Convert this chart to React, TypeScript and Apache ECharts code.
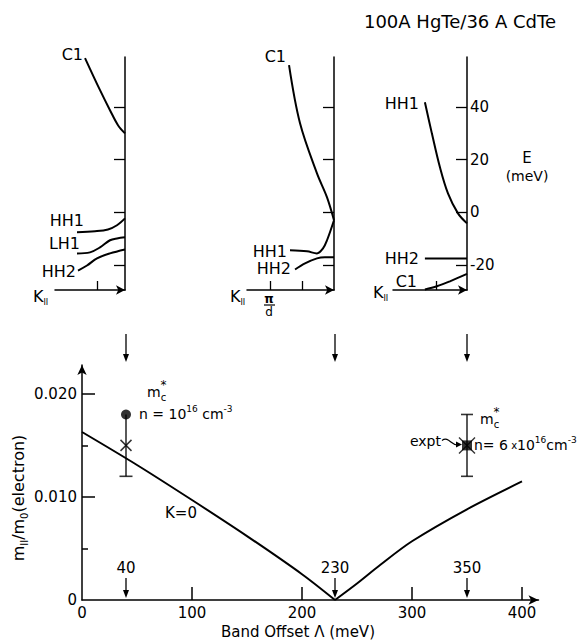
import React, { useEffect, useRef } from 'react';
import * as echarts from 'echarts';

const FONT = 'DejaVu Sans';

// ---------- Bottom panel: effective mass vs band offset ----------
const offsetLabels = [0, 100, 200, 300, 400];
const offsetTicks = [100, 200, 300, 400];
const massLabels = [0, 0.01, 0.02];
const massMajorTicks = [0.01, 0.02];
const massMinorTicks = [0.005, 0.015];
const massCurveBelow = [[0, 0.0163], [50, 0.0131], [100, 0.0097], [150, 0.0062], [200, 0.0025], [230, 0]];
const massCurveAbove = [[230, 0], [250, 0.0016], [271, 0.0034], [300, 0.0057], [350, 0.0088], [400, 0.0115]];
const lowDensityMeasured = [[40, 0.018]];
const lowDensityCalc = [[40, 0.015]];
const lowDensityError = [[40, 0.012], [40, 0.018]];
const lowDensityCaps = [[40, 0.012]];
const highDensityMeasured = [[350, 0.015]];
const highDensityError = [[350, 0.012], [350, 0.018]];
const highDensityCaps = [[350, 0.012], [350, 0.018]];
const markedOffsets = [40, 230, 350];

// ---------- Top panels: subband dispersions (k in π/d, E in meV) ----------
const energyTicks = [-20, 0, 20, 40];
const p40C1 = [[0.714, 58.6], [0.446, 46.4], [0.268, 38.8], [0.125, 33.1], [0, 30.0]];
const p40HH1 = [[0.857, -7.6], [0.536, -7.2], [0.304, -6.5], [0.143, -4.9], [0, -2.3]];
const p40LH1 = [[0.857, -15.6], [0.625, -15.2], [0.446, -13.3], [0.268, -10.6], [0.143, -9.9], [0, -9.5]];
const p40HH2 = [[0.839, -22.1], [0.679, -20.2], [0.5, -17.5], [0.268, -15.6], [0, -14.1]];
const p230C1 = [[0.703, 55.9], [0.531, 33.8], [0.266, 14.8], [0.109, 5.7], [0, -3.0]];
const p230HH1 = [[0.688, -14.4], [0.422, -14.8], [0.266, -15.6], [0.172, -13.7], [0.109, -10.6], [0, -3.0]];
const p230HH2 = [[0.609, -21.7], [0.453, -19.4], [0.266, -17.5], [0.141, -17.1], [0, -17.1]];
const p350HH1 = [[0.677, 41.8], [0.565, 30], [0.435, 17.1], [0.306, 7.2], [0.145, -0.4], [0, -4.2]];
const p350HH2 = [[0.677, -17.5], [0, -17.5]];
const p350C1 = [[0.677, -29.3], [0.484, -28.1], [0.274, -26.2], [0, -23.4]];

const BLACK = '#000';

const panels = [
  { left: 55, width: 70, kMax: 1.25, kTicks: [0.5], showLabels: false, curves: [p40C1, p40HH1, p40LH1, p40HH2] },
  { left: 247, width: 87, kMax: 1.36, kTicks: [0.5, 1], showLabels: false, curves: [p230C1, p230HH1, p230HH2] },
  { left: 393, width: 74, kMax: 1.19, kTicks: [0.5], showLabels: true, curves: [p350HH1, p350HH2, p350C1] },
];

const rich: any = {
  b: { fontFamily: FONT, fontSize: 14, lineHeight: 20, verticalAlign: 'middle', fill: BLACK },
  bs: { fontFamily: FONT, fontSize: 10, lineHeight: 20, verticalAlign: 'middle', fill: BLACK },
  sup: { fontFamily: FONT, fontSize: 9, lineHeight: 10, verticalAlign: 'top', fill: BLACK },
  sub: { fontFamily: FONT, fontSize: 10, lineHeight: 10, verticalAlign: 'bottom', fill: BLACK },
  k: { fontFamily: FONT, fontSize: 16, lineHeight: 20, verticalAlign: 'middle', fill: BLACK },
  ksub: { fontFamily: FONT, fontSize: 8, lineHeight: 8, verticalAlign: 'bottom', fill: BLACK },
  y: { fontFamily: FONT, fontSize: 16, lineHeight: 22, verticalAlign: 'middle', fill: BLACK },
  ysub: { fontFamily: FONT, fontSize: 10, lineHeight: 10, verticalAlign: 'bottom', fill: BLACK },
};

function txt(x: number, y: number, text: string, size = 15, align = 'left', extra: any = {}) {
  return {
    type: 'text', x, y, silent: true,
    style: {
      text, fontFamily: FONT, fontSize: size, fill: BLACK,
      align, textAlign: align, verticalAlign: 'middle', textVerticalAlign: 'middle', rich,
      ...extra,
    },
  };
}

function arrowDown(x: number, yTop: number, yTip: number) {
  return [
    { type: 'line', silent: true, shape: { x1: x, y1: yTop, x2: x, y2: yTip - 5 }, style: { stroke: BLACK, lineWidth: 1.3 } },
    { type: 'polygon', silent: true, shape: { points: [[x - 3, yTip - 8], [x + 3, yTip - 8], [x, yTip]] }, style: { fill: BLACK } },
  ];
}

function buildOption() {
  const grid: any[] = [{ left: 82, top: 365, width: 456.5, height: 235 }];
  const xAxis: any[] = [{
    gridIndex: 0, type: 'value', min: 0, max: 415, position: 'bottom',
    axisLine: { onZero: false, lineStyle: { color: BLACK, width: 1.5 }, symbol: ['none', 'arrow'], symbolSize: [7, 10] },
    axisTick: { inside: true, length: 13, customValues: offsetTicks, lineStyle: { color: BLACK, width: 1.5 } },
    axisLabel: { customValues: offsetLabels, color: BLACK, fontFamily: FONT, fontSize: 15, margin: 5 },
    splitLine: { show: false },
  }];
  const yAxis: any[] = [{
    gridIndex: 0, type: 'value', min: 0, max: 0.0228, position: 'left',
    axisLine: { onZero: false, lineStyle: { color: BLACK, width: 1.5 }, symbol: ['none', 'arrow'], symbolSize: [7, 10] },
    axisTick: { inside: true, length: 13, customValues: massMajorTicks, lineStyle: { color: BLACK, width: 1.5 } },
    axisLabel: {
      customValues: massLabels, color: BLACK, fontFamily: FONT, fontSize: 15, margin: 5,
      formatter: (v: number) => (v === 0 ? '0' : v.toFixed(3)),
    },
    splitLine: { show: false },
  }, {
    gridIndex: 0, type: 'value', min: 0, max: 0.0228, position: 'left',
    axisLine: { show: false },
    axisTick: { inside: true, length: 6, customValues: massMinorTicks, lineStyle: { color: BLACK, width: 1.5 } },
    axisLabel: { show: false },
    splitLine: { show: false },
  }];

  const lineStyle = { color: BLACK, width: 2 };
  const series: any[] = [
    { type: 'line', xAxisIndex: 0, yAxisIndex: 0, data: massCurveBelow, smooth: 0.3, showSymbol: false, lineStyle, silent: true },
    { type: 'line', xAxisIndex: 0, yAxisIndex: 0, data: massCurveAbove, smooth: 0.3, showSymbol: false, lineStyle, silent: true },
    { type: 'line', xAxisIndex: 0, yAxisIndex: 0, data: lowDensityError, showSymbol: false, lineStyle: { color: BLACK, width: 1.3 }, silent: true },
    { type: 'line', xAxisIndex: 0, yAxisIndex: 0, data: highDensityError, showSymbol: false, lineStyle: { color: BLACK, width: 1.3 }, silent: true },
    { type: 'scatter', xAxisIndex: 0, yAxisIndex: 0, data: lowDensityCaps, symbol: 'rect', symbolSize: [13, 1.6], itemStyle: { color: BLACK }, silent: true },
    { type: 'scatter', xAxisIndex: 0, yAxisIndex: 0, data: highDensityCaps, symbol: 'rect', symbolSize: [12, 1.6], itemStyle: { color: BLACK }, silent: true },
    { type: 'scatter', xAxisIndex: 0, yAxisIndex: 0, data: lowDensityMeasured, symbol: 'circle', symbolSize: 10, itemStyle: { color: BLACK }, silent: true },
    {
      type: 'scatter', xAxisIndex: 0, yAxisIndex: 0, data: lowDensityCalc, symbol: 'path://M0,0L10,10M10,0L0,10',
      symbolSize: 11, itemStyle: { color: 'transparent', borderColor: BLACK, borderWidth: 1.5 }, silent: true,
    },
    { type: 'scatter', xAxisIndex: 0, yAxisIndex: 0, data: highDensityMeasured, symbol: 'rect', symbolSize: 10, itemStyle: { color: BLACK }, silent: true },
    {
      type: 'scatter', xAxisIndex: 0, yAxisIndex: 0, data: highDensityMeasured, symbol: 'path://M0,0L10,10M10,0L0,10',
      symbolSize: 16, itemStyle: { color: 'transparent', borderColor: BLACK, borderWidth: 1.4 }, silent: true,
    },
  ];

  panels.forEach((p, i) => {
    const gi = i + 1;
    grid.push({ left: p.left, top: 57, width: p.width, height: 233 });
    xAxis.push({
      gridIndex: gi, type: 'value', min: 0, max: p.kMax, inverse: true, position: 'bottom',
      axisLine: { onZero: false, lineStyle: { color: BLACK, width: 1.5 }, symbol: ['none', 'arrow'], symbolSize: [7, 9] },
      axisTick: { inside: true, length: 9, customValues: p.kTicks, lineStyle: { color: BLACK, width: 1.3 } },
      axisLabel: { show: false },
      splitLine: { show: false },
    });
    yAxis.push({
      gridIndex: gi, type: 'value', min: -29.5, max: 59, position: 'right',
      axisLine: { onZero: false, lineStyle: { color: BLACK, width: 1.5 } },
      axisTick: { inside: true, length: 11, customValues: energyTicks, lineStyle: { color: BLACK, width: 1.3 } },
      axisLabel: { show: p.showLabels, customValues: energyTicks, color: BLACK, fontFamily: FONT, fontSize: 15, margin: 3 },
      splitLine: { show: false },
    });
    p.curves.forEach((c) => {
      series.push({
        type: 'line', xAxisIndex: gi, yAxisIndex: gi + 1, data: c, smooth: 0.35,
        showSymbol: false, lineStyle, silent: true,
      });
    });
  });

  return {
    animation: false,
    backgroundColor: '#fff',
    textStyle: { fontFamily: FONT, color: BLACK },
    grid, xAxis, yAxis, series,
  };
}

function mStar(x0: number, y: number) {
  // m with subscript c and superscript asterisk
  return [
    txt(x0, y, '{b|m}{sub|c}'),
    txt(x0 + 16.5, y - 7, '*', 12, 'center'),
  ];
}

function buildGraphics(chart: any) {
  const g: any[] = [];
  const px = (x: number, y: number) => chart.convertToPixel({ xAxisIndex: 0, yAxisIndex: 0 }, [x, y]);

  // title
  g.push(txt(460, 21, '100A HgTe/36 A CdTe', 18, 'center'));

  // top panel curve labels
  g.push(txt(83, 54, 'C1', 16, 'right'));
  g.push(txt(84, 220, 'HH1', 16, 'right'));
  g.push(txt(80, 243, 'LH1', 16, 'right'));
  g.push(txt(76, 271, 'HH2', 16, 'right'));
  g.push(txt(286, 56, 'C1', 16, 'right'));
  g.push(txt(287, 251, 'HH1', 16, 'right'));
  g.push(txt(291, 268, 'HH2', 16, 'right'));
  g.push(txt(419, 103, 'HH1', 16, 'right'));
  g.push(txt(419, 258, 'HH2', 16, 'right'));
  g.push(txt(417, 281, 'C1', 16, 'right'));

  // K labels
  g.push(txt(33, 296, '{k|K}{ksub|II}'));
  g.push(txt(230, 296, '{k|K}{ksub|II}'));
  g.push(txt(373, 292, '{k|K}{ksub|II}'));

  // pi/d
  g.push(txt(269, 299, 'π', 12, 'center', { fontWeight: 'bold' }));
  g.push({ type: 'line', silent: true, shape: { x1: 264, y1: 305, x2: 275, y2: 305 }, style: { stroke: BLACK, lineWidth: 1.2 } });
  g.push(txt(269, 312, 'd', 12, 'center'));

  // E (meV)
  g.push(txt(527, 158, 'E', 15, 'center'));
  g.push(txt(527, 176, '(meV)', 14, 'center'));

  // arrows linking top panels to offsets
  markedOffsets.forEach((v) => {
    const [x, y0] = px(v, 0);
    g.push(...arrowDown(x, 334, 362));
    g.push(...arrowDown(x, y0 - 22, y0 - 2));
    g.push(txt(x, y0 - 32, String(v), 15, 'center'));
  });

  // low-density annotation
  const [lx, ly] = px(lowDensityMeasured[0][0], lowDensityMeasured[0][1]);
  g.push(...mStar(lx + 21, ly - 22));
  g.push(txt(lx + 13, ly, '{b|n = 10}{sup|16}{b| cm}{sup|-3}'));

  // high-density annotation
  const [hx, hy] = px(highDensityMeasured[0][0], highDensityMeasured[0][1]);
  g.push(...mStar(hx + 13, hy - 26));
  g.push(txt(hx + 7, hy, '{b|n= 6}{bs| x}{b|10}{sup|16}{b|cm}{sup|-3}'));
  g.push(txt(hx - 26, hy - 4, 'expt', 14, 'right'));
  g.push({
    type: 'bezierCurve', silent: true,
    shape: { x1: hx - 25, y1: hy - 5, cpx1: hx - 18, cpy1: hy - 10, cpx2: hx - 15, cpy2: hy + 2, x2: hx - 8, y2: hy - 1 },
    style: { stroke: BLACK, lineWidth: 1.2, fill: 'none' },
  });
  g.push({ type: 'polygon', silent: true, shape: { points: [[hx - 11, hy - 4], [hx - 11, hy + 2], [hx - 5, hy - 1]] }, style: { fill: BLACK } });

  // K=0
  g.push(txt(165, 513, 'K=0', 15));

  // axis titles
  g.push(txt(298, 632, 'Band Offset Λ (meV)', 15, 'center'));
  g.push({
    type: 'text', x: 18, y: 498, rotation: Math.PI / 2, silent: true,
    style: {
      text: '{y|m}{ysub|II}{y|/m}{ysub|0}{y|(electron)}', rich,
      align: 'center', textAlign: 'center', verticalAlign: 'middle', textVerticalAlign: 'middle',
    },
  });

  return g;
}

export default function App() {
  const ref = useRef<HTMLDivElement>(null);
  useEffect(() => {
    const chart = echarts.init(ref.current!, null, { renderer: 'svg' });
    chart.setOption(buildOption());
    chart.setOption({ graphic: buildGraphics(chart) });
    return () => chart.dispose();
  }, []);
  return (
    <div
      ref={ref}
      style={{ position: 'fixed', left: 0, top: 0, width: 577, height: 642, background: '#fff' }}
    />
  );
}
